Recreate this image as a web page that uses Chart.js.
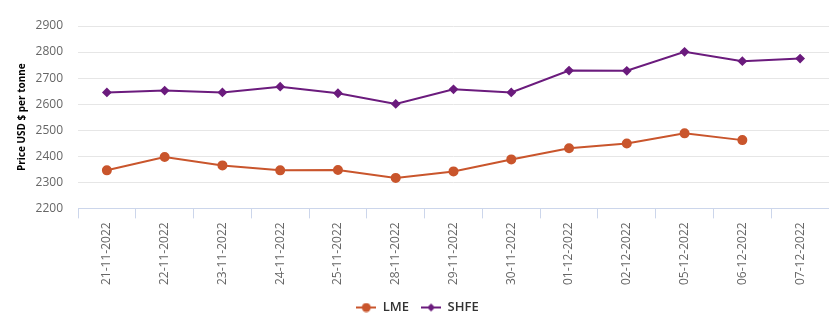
<!DOCTYPE html>
<html>
<head>
<meta charset="utf-8">
<script src="https://cdn.jsdelivr.net/npm/chart.js@4/dist/chart.umd.min.js"></script>
<style>
  html, body { margin: 0; padding: 0; background: #fff; overflow: hidden; }
  #wrap { width: 836px; height: 327px; position: relative; }
</style>
</head>
<body>
<div id="wrap"><canvas id="priceChart"></canvas></div>
<script>
  var dates = ["21-11-2022", "22-11-2022", "23-11-2022", "24-11-2022", "25-11-2022", "28-11-2022",
    "29-11-2022", "30-11-2022", "01-12-2022", "02-12-2022", "05-12-2022", "06-12-2022", "07-12-2022"];
  var lmePrices = [2346, 2397, 2365, 2346, 2347, 2317, 2342, 2388, 2431, 2449, 2488, 2462, null];
  var shfePrices = [2645, 2652, 2645, 2667, 2642, 2601, 2657, 2645, 2729, 2728, 2801, 2765, 2775];
  var yTicks = [2200, 2300, 2400, 2500, 2600, 2700, 2800, 2900];

  var LME_COLOR = "#c9552c";
  var SHFE_COLOR = "#6b1b7d";

  // little "line + marker" swatch for the legend
  function legendIcon(color, style) {
    var c = document.createElement("canvas");
    c.width = 20; c.height = 10;
    var ctx = c.getContext("2d");
    ctx.strokeStyle = color;
    ctx.lineWidth = 2;
    ctx.beginPath();
    ctx.moveTo(0, 5); ctx.lineTo(20, 5);
    ctx.stroke();
    ctx.fillStyle = color;
    ctx.beginPath();
    if (style === "circle") {
      ctx.arc(10, 5, 4.5, 0, Math.PI * 2);
    } else {
      ctx.moveTo(10, 1); ctx.lineTo(14, 5); ctx.lineTo(10, 9); ctx.lineTo(6, 5);
      ctx.closePath();
    }
    ctx.fill();
    return c;
  }

  var icons = [legendIcon(LME_COLOR, "circle"), legendIcon(SHFE_COLOR, "diamond")];

  new Chart(document.getElementById("priceChart").getContext("2d"), {
    type: "line",
    data: {
      labels: dates,
      datasets: [
        {
          label: "LME",
          data: lmePrices,
          borderColor: LME_COLOR,
          backgroundColor: LME_COLOR,
          borderWidth: 2,
          pointStyle: "circle",
          pointRadius: 4,
          pointHoverRadius: 5,
          tension: 0,
          spanGaps: false
        },
        {
          label: "SHFE",
          data: shfePrices,
          borderColor: SHFE_COLOR,
          backgroundColor: SHFE_COLOR,
          borderWidth: 2,
          pointStyle: "rectRot",
          pointRadius: 3.5,
          pointHoverRadius: 5,
          tension: 0
        }
      ]
    },
    options: {
      responsive: true,
      maintainAspectRatio: false,
      animation: false,
      layout: { padding: { top: 26, right: 1, left: 0, bottom: 3 } },
      scales: {
        x: {
          offset: true,
          grid: {
            offset: true,
            drawOnChartArea: false,
            color: "#ccd6eb",
            tickLength: 10
          },
          border: { color: "#ccd6eb" },
          ticks: {
            color: "#666",
            maxRotation: 90,
            minRotation: 90,
            autoSkip: false,
            padding: 4,
            font: { family: "Open Sans", size: 12 }
          }
        },
        y: {
          min: 2200,
          max: 2900,
          afterBuildTicks: function (axis) {
            axis.ticks = yTicks.map(function (v) { return { value: v }; });
          },
          afterFit: function (axis) { axis.width = 78; },
          grid: { color: "#e6e6e6", drawTicks: false },
          border: { display: false },
          ticks: {
            color: "#666",
            padding: 15,
            font: { family: "Open Sans", size: 12 },
            callback: function (v) { return String(v); }
          },
          title: {
            display: true,
            text: "Price USD $ per tonne",
            color: "#000",
            padding: { top: 16, bottom: 0 },
            font: { family: "Open Sans", size: 10, weight: "bold" }
          }
        }
      },
      plugins: {
        legend: {
          position: "bottom",
          labels: {
            color: "#333",
            usePointStyle: true,
            pointStyleWidth: 20,
            padding: 12,
            font: { family: "Open Sans", size: 13, weight: "600" },
            generateLabels: function (chart) {
              return chart.data.datasets.map(function (ds, i) {
                return {
                  text: ds.label,
                  fillStyle: ds.borderColor,
                  strokeStyle: ds.borderColor,
                  fontColor: "#333",
                  pointStyle: icons[i],
                  datasetIndex: i,
                  hidden: false
                };
              });
            }
          }
        },
        tooltip: { enabled: false }
      }
    }
  });
</script>
</body>
</html>
